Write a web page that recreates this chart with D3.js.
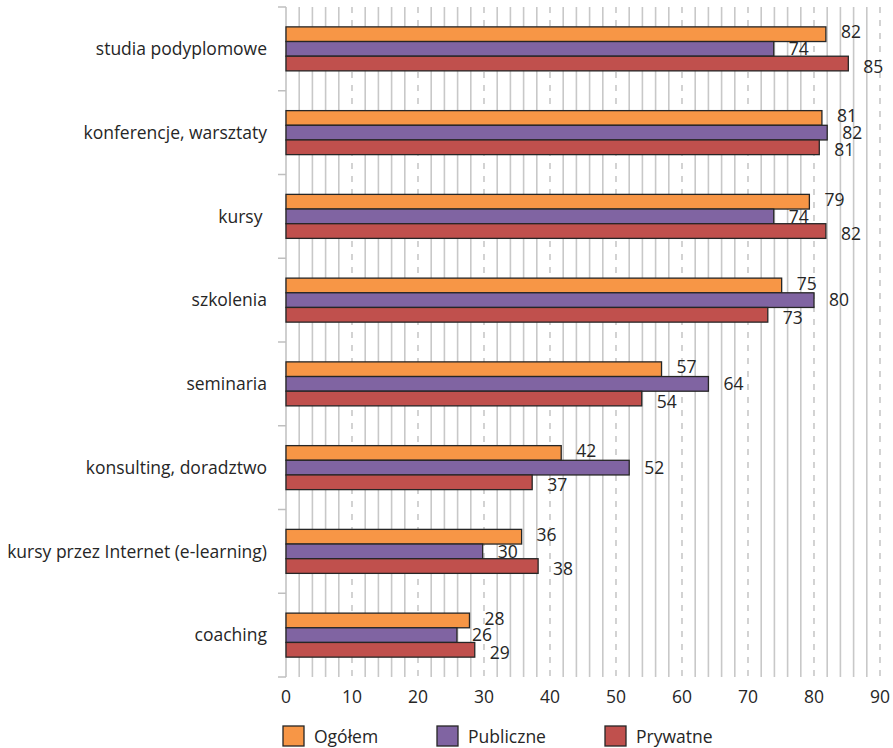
<!DOCTYPE html>
<html><head><meta charset="utf-8">
<script src="https://cdn.jsdelivr.net/npm/d3@7"></script>
<style>
body{margin:0;background:#fff;}
text{font-family:"Open Sans",sans-serif;fill:#262626;white-space:pre;}
</style></head>
<body><svg id="c" width="893" height="748"></svg>
<script>
const categories = ["studia podyplomowe","konferencje, warsztaty","kursy ","szkolenia","seminaria","konsulting, doradztwo","kursy przez Internet (e-learning)","coaching"];
const series = ["Ogółem","Publiczne","Prywatne"];
const ogolem =    [81.8, 81.2, 79.3, 75.1, 56.9, 41.7, 35.7, 27.8];
const publiczne = [73.9, 82.0, 73.9, 80.0, 64.0, 52.0, 29.8, 25.9];
const prywatne =  [85.2, 80.8, 81.8, 73.0, 53.9, 37.3, 38.2, 28.6];
const labelsOgolem =    ["82","81","79","75","57","42","36","28"];
const labelsPubliczne = ["74","82","74","80","64","52","30","26"];
const labelsPrywatne =  ["85","81","82","73","54","37","38","29"];
const xTicks = [0,10,20,30,40,50,60,70,80,90];
const colors = ["#F79646","#8064A2","#C0504D"];

const values = [ogolem, publiczne, prywatne];
const labels = [labelsOgolem, labelsPubliczne, labelsPrywatne];
const labelShift = [-2, 0, 3];
const fs = "17.5px";

const svg = d3.select("#c");
const x = d3.scaleLinear().domain([0,90]).range([286,880]);
const y = d3.scaleBand().domain(categories).range([7,677]).padding(0);
const y1 = d3.scaleBand().domain(series).range([0,y.bandwidth()]).paddingInner(0).paddingOuter(1.355);

// grid
const minor = d3.range(2,90,2).filter(v => v % 10 !== 0);
svg.append("g").selectAll("line").data(minor).join("line")
  .attr("x1", d=>x(d)).attr("x2", d=>x(d)).attr("y1",7).attr("y2",677)
  .attr("stroke","#c8c8c8").attr("stroke-width",1.6);
svg.append("g").selectAll("line").data(xTicks.slice(1)).join("line")
  .attr("x1", d=>x(d)).attr("x2", d=>x(d)).attr("y1",7).attr("y2",677)
  .attr("stroke","#c8c8c8").attr("stroke-width",1.6).attr("stroke-dasharray","6,7");

// left axis
svg.append("line").attr("x1",x(0)).attr("x2",x(0)).attr("y1",7).attr("y2",677)
  .attr("stroke","#bfbfbf").attr("stroke-width",1.5);
const bounds = categories.map(c=>y(c)).concat([677]);
svg.append("g").selectAll("line").data(bounds).join("line")
  .attr("x1",278).attr("x2",x(0)).attr("y1",d=>d).attr("y2",d=>d)
  .attr("stroke","#bfbfbf").attr("stroke-width",1.5);

// category labels
svg.append("g").selectAll("text").data(categories).join("text")
  .attr("x",267).attr("y",d=>y(d)+y.bandwidth()/2).attr("dy","0.35em")
  .attr("text-anchor","end").attr("font-size",fs).text(d=>d);

// bars
series.forEach((s,si)=>{
  const g = svg.append("g");
  g.selectAll("rect").data(categories).join("rect")
    .attr("x",x(0)).attr("y",(c)=>y(c)+y1(s))
    .attr("width",(c,i)=>x(values[si][i])-x(0)).attr("height",y1.bandwidth())
    .attr("fill",colors[si]).attr("stroke","#262626").attr("stroke-width",1.3);
  g.selectAll("text").data(categories).join("text")
    .attr("x",(c,i)=>x(values[si][i])+15)
    .attr("y",(c)=>y(c)+y1(s)+y1.bandwidth()/2+labelShift[si])
    .attr("dy","0.35em").attr("font-size",fs)
    .text((c,i)=>labels[si][i]);
});

// x tick labels
svg.append("g").selectAll("text").data(xTicks).join("text")
  .attr("x",d=>x(d)).attr("y",697).attr("dy","0.35em").attr("text-anchor","middle")
  .attr("font-size",fs).text(d=>d);

// legend
const legX = [283, 437, 605];
series.forEach((s,i)=>{
  svg.append("rect").attr("x",legX[i]).attr("y",726).attr("width",21).attr("height",20)
    .attr("fill",colors[i]).attr("stroke","#262626").attr("stroke-width",1.3);
  svg.append("text").attr("x",legX[i]+31).attr("y",737).attr("dy","0.35em")
    .attr("font-size",fs).text(s);
});
</script></body></html>
